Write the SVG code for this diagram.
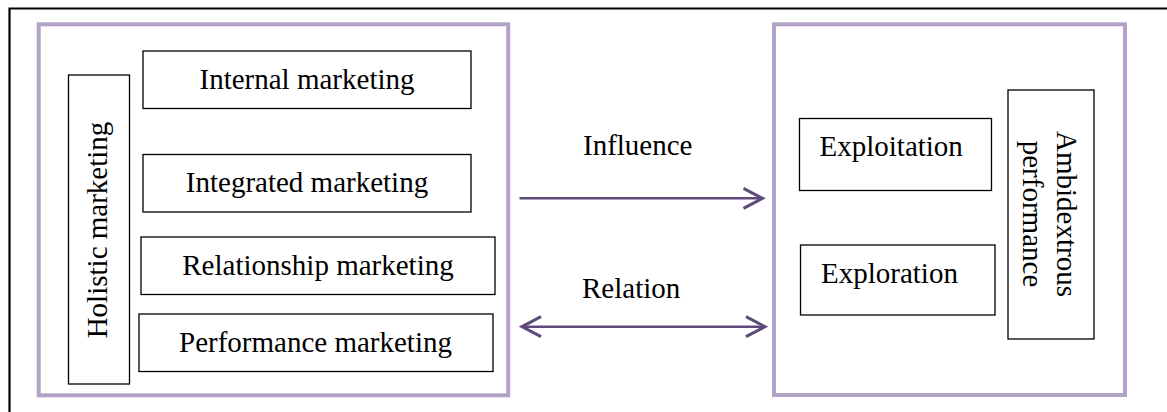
<svg xmlns="http://www.w3.org/2000/svg" width="1167" height="412" viewBox="0 0 1167 412">
  <style>
    .frame { fill: none; stroke: #000; stroke-width: 2.2; }
    .group { fill: #fff; stroke: #b3a2c7; stroke-width: 4; }
    .box { fill: #fff; stroke: #000; stroke-width: 1.3; }
    .lbl { font-family: "Liberation Serif", "Times New Roman", serif; font-size: 29px; fill: #000; }
    .mid { text-anchor: middle; }
    .conn { fill: none; stroke: #604a7b; stroke-width: 2.6; }
  </style>
  <defs>
    <marker id="chev" viewBox="0 0 24 24" refX="21" refY="12" markerWidth="24" markerHeight="24" markerUnits="userSpaceOnUse" orient="auto-start-reverse">
      <path d="M2 2 L21 12 L2 22" fill="none" stroke="#604a7b" stroke-width="3"/>
    </marker>
  </defs>

  <rect width="1167" height="412" fill="#fff"/>

  <!-- outer frame (open on the right and bottom) -->
  <path class="frame" d="M9.5 412 V8.5 H1167"/>

  <!-- left panel: holistic marketing -->
  <g id="holistic-panel">
    <rect class="group" x="38.7" y="24.3" width="469.5" height="371"/>
  </g>
  <g id="holistic">
    <rect class="box" x="68.5" y="75" width="61" height="309"/>
    <text class="lbl mid" transform="translate(107 230) rotate(-90)">Holistic marketing</text>
  </g>
  <g id="internal">
    <rect class="box" x="143" y="51" width="328" height="57.5"/>
    <text class="lbl mid" x="307" y="88.5">Internal marketing</text>
  </g>
  <g id="integrated">
    <rect class="box" x="143" y="154.5" width="328" height="57.5"/>
    <text class="lbl mid" x="307" y="191.5">Integrated marketing</text>
  </g>
  <g id="relationship">
    <rect class="box" x="141" y="237" width="354" height="57.5"/>
    <text class="lbl mid" x="318" y="275">Relationship marketing</text>
  </g>
  <g id="performance">
    <rect class="box" x="139" y="314" width="354" height="57.5"/>
    <text class="lbl mid" x="315.5" y="351.5">Performance marketing</text>
  </g>

  <!-- right panel: ambidexterity -->
  <g id="ambidexterity-panel">
    <rect class="group" x="774" y="24.3" width="351" height="370.7"/>
  </g>
  <g id="exploitation">
    <rect class="box" x="799.5" y="118.5" width="192" height="72"/>
    <text class="lbl" x="819.5" y="155.5">Exploitation</text>
  </g>
  <g id="exploration">
    <rect class="box" x="800.5" y="245" width="194.5" height="70"/>
    <text class="lbl" x="821" y="282.5">Exploration</text>
  </g>
  <g id="ambidextrous">
    <rect class="box" x="1008" y="90" width="86" height="249"/>
    <text class="lbl mid" transform="translate(1057 214) rotate(90)">Ambidextrous</text>
    <text class="lbl mid" transform="translate(1023 214) rotate(90)">performance</text>
  </g>

  <!-- connectors -->
  <g id="connectors">
    <line class="conn" x1="519.5" y1="198.3" x2="762.5" y2="198.3" marker-end="url(#chev)"/>
    <text class="lbl" x="583" y="155">Influence</text>
    <line class="conn" x1="522" y1="326.7" x2="765" y2="326.7" marker-start="url(#chev)" marker-end="url(#chev)"/>
    <text class="lbl" x="582" y="297.5">Relation</text>
  </g>
</svg>
